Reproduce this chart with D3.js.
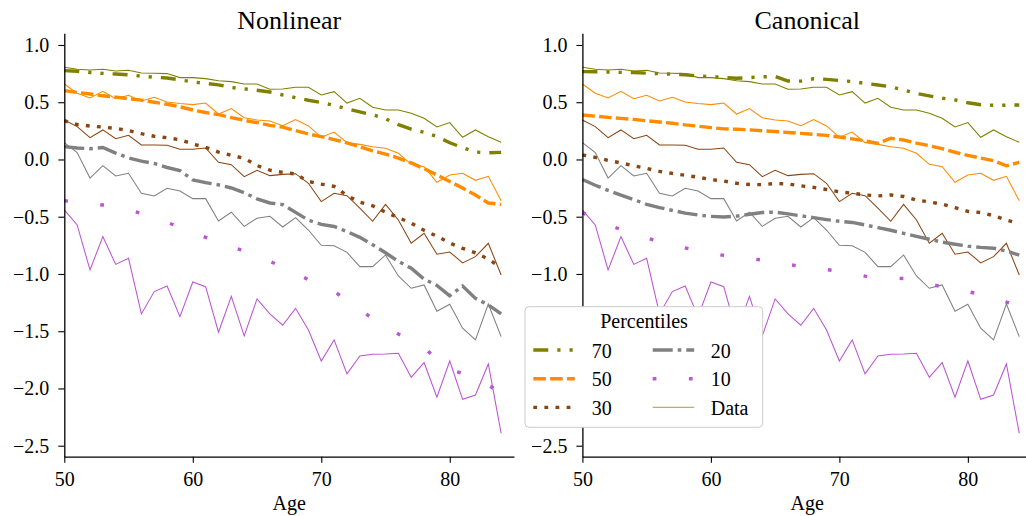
<!DOCTYPE html>
<html><head><meta charset="utf-8">
<script src="https://cdn.jsdelivr.net/npm/d3@7"></script>
<style>
body{margin:0;background:#fff}
svg text{font-family:"Liberation Serif","Times New Roman",serif;fill:#000}
</style>
</head><body>
<svg id="chart" width="1026" height="516"></svg>
<script>
// ---------- data ----------
const ages = [50,51,52,53,54,55,56,57,58,59,60,61,62,63,64,65,66,67,68,69,70,71,72,73,74,75,76,77,78,79,80,81,82,83,84];
const percentiles = ["70","50","30","20","10"];
const xTickValues = [50,60,70,80];
const yTickValues = [-2.5,-2.0,-1.5,-1.0,-0.5,0.0,0.5,1.0];
const panelTitles = ["Nonlinear","Canonical"];

// observed data (same in both panels)
const data70 = [0.805,0.788,0.782,0.788,0.773,0.779,0.755,0.753,0.750,0.715,0.715,0.706,0.688,0.680,0.659,0.659,0.613,0.616,0.630,0.630,0.563,0.592,0.493,0.534,0.456,0.432,0.432,0.403,0.360,0.284,0.322,0.194,0.258,0.199,0.150];
const data50 = [0.659,0.578,0.537,0.595,0.531,0.560,0.511,0.543,0.502,0.488,0.479,0.493,0.397,0.444,0.365,0.345,0.336,0.295,0.348,0.293,0.194,0.240,0.147,0.132,0.112,0.098,0.054,-0.042,-0.063,-0.199,-0.135,-0.121,-0.182,-0.147,-0.360];
const data30 = [0.345,0.287,0.191,0.258,0.182,0.211,0.127,0.127,0.124,0.089,0.089,0.100,-0.025,-0.045,-0.150,-0.095,-0.141,-0.130,-0.124,-0.208,-0.368,-0.295,-0.316,-0.426,-0.540,-0.392,-0.528,-0.732,-0.645,-0.828,-0.808,-0.904,-0.849,-0.732,-1.009];
const data20 = [0.147,0.060,-0.162,-0.054,-0.144,-0.121,-0.295,-0.319,-0.252,-0.275,-0.342,-0.342,-0.537,-0.461,-0.584,-0.514,-0.496,-0.590,-0.508,-0.616,-0.750,-0.753,-0.811,-0.936,-0.936,-0.834,-1.017,-1.125,-1.096,-1.326,-1.265,-1.474,-1.576,-1.262,-1.547];
const data10 = [-0.441,-0.572,-0.965,-0.674,-0.916,-0.863,-1.349,-1.154,-1.105,-1.373,-1.070,-1.111,-1.509,-1.195,-1.541,-1.218,-1.349,-1.448,-1.300,-1.489,-1.760,-1.576,-1.873,-1.716,-1.702,-1.699,-1.693,-1.902,-1.774,-2.077,-1.760,-2.095,-2.057,-1.786,-2.392];

// Nonlinear model percentiles
const nonlin70 = [0.776,0.770,0.760,0.752,0.746,0.740,0.728,0.718,0.712,0.695,0.678,0.664,0.652,0.628,0.617,0.605,0.589,0.563,0.540,0.517,0.497,0.472,0.442,0.415,0.390,0.355,0.304,0.265,0.237,0.200,0.146,0.104,0.065,0.058,0.062];
const nonlin50 = [0.601,0.585,0.572,0.556,0.545,0.530,0.518,0.500,0.482,0.460,0.432,0.410,0.392,0.365,0.342,0.322,0.298,0.282,0.252,0.222,0.200,0.174,0.145,0.110,0.075,0.047,0.012,-0.030,-0.080,-0.135,-0.192,-0.250,-0.310,-0.380,-0.392];
const nonlin30 = [0.339,0.305,0.292,0.283,0.272,0.252,0.225,0.203,0.190,0.172,0.135,0.106,0.065,0.036,0.011,-0.053,-0.093,-0.113,-0.127,-0.192,-0.215,-0.235,-0.315,-0.372,-0.405,-0.460,-0.508,-0.556,-0.619,-0.670,-0.730,-0.776,-0.815,-0.870,-0.945];
const nonlin20 = [0.112,0.100,0.094,0.104,0.055,0.014,-0.015,-0.035,-0.070,-0.097,-0.178,-0.202,-0.222,-0.249,-0.290,-0.345,-0.380,-0.394,-0.462,-0.530,-0.567,-0.585,-0.630,-0.680,-0.745,-0.815,-0.890,-0.950,-1.045,-1.100,-1.190,-1.105,-1.213,-1.270,-1.349];
const nonlin10 = [-0.360,-0.372,-0.385,-0.398,-0.420,-0.443,-0.470,-0.510,-0.550,-0.590,-0.635,-0.680,-0.730,-0.760,-0.800,-0.845,-0.890,-0.940,-0.995,-1.050,-1.100,-1.152,-1.230,-1.310,-1.390,-1.460,-1.525,-1.575,-1.640,-1.750,-1.835,-1.870,-1.910,-1.970,-2.040];

// Canonical model percentiles
const canon70 = [0.767,0.766,0.764,0.761,0.759,0.754,0.749,0.745,0.740,0.729,0.724,0.717,0.709,0.715,0.722,0.725,0.685,0.684,0.705,0.700,0.690,0.681,0.665,0.650,0.635,0.607,0.577,0.555,0.535,0.520,0.495,0.478,0.473,0.474,0.476];
const canon50 = [0.389,0.378,0.368,0.359,0.350,0.338,0.327,0.316,0.302,0.291,0.278,0.267,0.264,0.259,0.251,0.244,0.236,0.228,0.219,0.210,0.196,0.180,0.163,0.141,0.185,0.170,0.142,0.120,0.094,0.063,0.035,0.012,-0.010,-0.055,-0.025];
const canon30 = [0.040,0.018,-0.008,-0.030,-0.055,-0.078,-0.104,-0.122,-0.138,-0.155,-0.176,-0.188,-0.208,-0.219,-0.220,-0.210,-0.214,-0.230,-0.244,-0.262,-0.283,-0.295,-0.310,-0.318,-0.310,-0.323,-0.354,-0.371,-0.390,-0.420,-0.453,-0.464,-0.490,-0.530,-0.560];
const canon20 = [-0.175,-0.225,-0.270,-0.312,-0.350,-0.392,-0.420,-0.445,-0.468,-0.485,-0.497,-0.502,-0.495,-0.478,-0.463,-0.460,-0.475,-0.492,-0.508,-0.525,-0.540,-0.550,-0.572,-0.595,-0.618,-0.645,-0.672,-0.697,-0.722,-0.740,-0.757,-0.768,-0.775,-0.800,-0.835];
const canon10 = [-0.465,-0.520,-0.570,-0.612,-0.650,-0.686,-0.717,-0.745,-0.772,-0.797,-0.818,-0.838,-0.853,-0.866,-0.878,-0.895,-0.915,-0.935,-0.950,-0.962,-0.976,-0.997,-1.019,-1.032,-1.036,-1.040,-1.060,-1.087,-1.113,-1.135,-1.155,-1.178,-1.208,-1.245,-1.280];

// ---------- assemble ----------
const observed = [data70, data50, data30, data20, data10];
const models = [[nonlin70,nonlin50,nonlin30,nonlin20,nonlin10],[canon70,canon50,canon30,canon20,canon10]];

const colors = {"70":"#808000","50":"#ff8c00","30":"#8b4513","20":"#808080","10":"#ba55d3"};
const dashes = {"70":"15,9,3.2,9,3.2,9","50":"12.6,4.2","30":"3.8,7.3","20":"20,5,3.6,5","10":"3.7,32.5"};
const thick = 3.4;

const svg = d3.select("#chart");
svg.append("rect").attr("width",1026).attr("height",516).attr("fill","#fff");

const plotTop = 33.3, plotBottom = 456.7, plotW = 449.7;
const panelLeft = [64.3, 582.4];

const y = d3.scaleLinear().domain([-2.596, 1.102]).range([plotBottom, plotTop]);
const fmt = d3.format(".1f");

panelTitles.forEach((title, p) => {
  const x = d3.scaleLinear().domain([50, 85]).range([panelLeft[p], panelLeft[p] + plotW]);
  const g = svg.append("g");
  const line = d3.line().x(d => x(d[0])).y(d => y(d[1]));

  percentiles.forEach((pc, k) => {
    const mv = models[p][k].map((v, i) => [ages[i], v]);
    g.append("path").attr("d", line(mv)).attr("fill","none")
      .attr("stroke", colors[pc]).attr("stroke-width", thick)
      .attr("stroke-dasharray", dashes[pc]);
    const ov = observed[k].map((v, i) => [ages[i], v]);
    g.append("path").attr("d", line(ov)).attr("fill","none")
      .attr("stroke", colors[pc]).attr("stroke-width", 1.05);
  });

  // axes
  const xAxis = d3.axisBottom(x).tickValues(xTickValues).tickSize(6).tickSizeOuter(0).tickPadding(9).tickFormat(d3.format("d"));
  const gx = svg.append("g").attr("transform", `translate(0,${plotBottom})`).call(xAxis);
  const yAxis = d3.axisLeft(y).tickValues(yTickValues).tickSize(6).tickSizeOuter(0).tickPadding(9).tickFormat(fmt);
  const gy = svg.append("g").attr("transform", `translate(${panelLeft[p]},0)`).call(yAxis);
  [gx, gy].forEach(a => {
    a.select(".domain").attr("stroke","#000").attr("stroke-width",1.3);
    a.selectAll(".tick line").attr("stroke","#000").attr("stroke-width",1.1);
    a.selectAll(".tick text").attr("font-size","20px").attr("font-family",'"Liberation Serif",serif').attr("fill","#000");
  });

  svg.append("text").attr("x", panelLeft[p] + plotW/2).attr("y", 29)
    .attr("text-anchor","middle").attr("font-size","26px").text(title);
  svg.append("text").attr("x", panelLeft[p] + plotW/2).attr("y", 510)
    .attr("text-anchor","middle").attr("font-size","20px").text("Age");
});

// ---------- legend ----------
const lg = svg.append("g");
lg.append("rect").attr("x",525).attr("y",306.7).attr("width",237.7).attr("height",120.6)
  .attr("rx",4).attr("fill","#fff").attr("stroke","#cccccc").attr("stroke-width",1);
lg.append("text").attr("x",644).attr("y",328.3).attr("text-anchor","middle").attr("font-size","20px").text("Percentiles");
const legendItems = percentiles.concat(["Data"]);
legendItems.forEach((name, i) => {
  const col = Math.floor(i / 3), row = i % 3;
  const hx = col === 0 ? 533.3 : 652.7;
  const tx = col === 0 ? 591.7 : 710.7;
  const cy = 350 + row * 28.7;
  const h = lg.append("line").attr("x1",hx).attr("x2",hx+41.5).attr("y1",cy).attr("y2",cy);
  if (name === "Data") {
    h.attr("stroke", colors["70"]).attr("stroke-opacity",0.6).attr("stroke-width",1.3);
  } else {
    h.attr("stroke", colors[name]).attr("stroke-width",thick).attr("stroke-dasharray",dashes[name]);
  }
  lg.append("text").attr("x",tx).attr("y",cy+7.5).attr("font-size","20px").text(name);
});
</script>
</body></html>
